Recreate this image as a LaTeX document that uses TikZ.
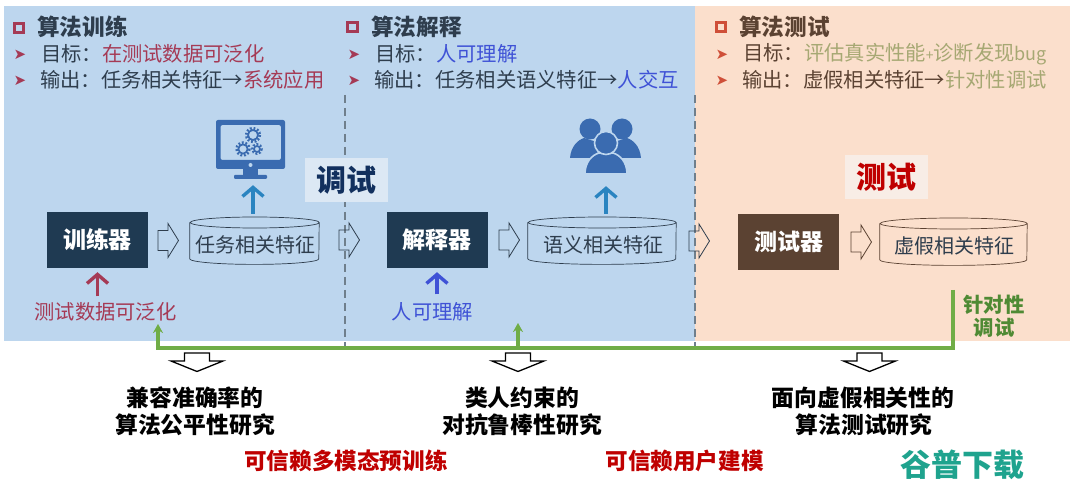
\documentclass[tikz,border=0pt]{standalone}
\usepackage{fontspec}
\setmainfont{Noto Sans CJK SC}
\newfontfamily\djv{DejaVu Sans}
\usetikzlibrary{arrows.meta}
\definecolor{panelblue}{HTML}{BDD6EE}
\definecolor{panelorange}{HTML}{FBDFCC}
\definecolor{ink}{HTML}{2E3D4D}
\definecolor{navybox}{HTML}{1F3A52}
\definecolor{brownbox}{HTML}{5B4232}
\definecolor{crimson}{HTML}{A53A55}
\definecolor{orangered}{HTML}{CF4F38}
\definecolor{vivblue}{HTML}{3F52D6}
\definecolor{olive}{HTML}{A6A873}
\definecolor{skyarrow}{HTML}{2A84C0}
\definecolor{iconblue}{HTML}{3A6BB0}
\definecolor{grassgreen}{HTML}{70AD47}
\definecolor{deepgreen}{HTML}{4F8A34}
\definecolor{dashgrey}{HTML}{6F7F8C}
\definecolor{teal1}{HTML}{1FA38E}
\definecolor{tagblue}{HTML}{DCE8F4}
\definecolor{tagnavy}{HTML}{12305E}
\definecolor{tagcream}{HTML}{F8EDE6}
\newcommand{\fsz}[1]{\fontsize{#1}{#1}\selectfont}
\tikzset{
  x=1pt,y=-1pt,
  titletext/.style={anchor=west,font=\fsz{22.6}\bfseries,text=ink,inner sep=0pt},
  linetext/.style={anchor=west,font=\fsz{20.3},text=ink,inner sep=0pt},
  bullet/.style={font=\djv\fsz{15},inner sep=0pt},
  squaremark/.style={draw=#1,line width=3pt,minimum width=9.5pt,minimum height=9.5pt,inner sep=0pt},
  blockbox/.style={fill=#1,text=white,font=\fsz{23}\bfseries,minimum width=101pt,minimum height=56pt,inner sep=0pt},
  blockline/.style={draw=#1,line width=.8pt,line join=miter},
  downline/.style={draw=black,line width=1.3pt,fill=white},
  upbarb/.style={draw=#1,line width=3.4pt,-{Straight Barb[length=9pt,width=21pt,line width=3.4pt]}},
  greenline/.style={draw=grassgreen,line width=3.6pt},
  greenhead/.style={greenline,-{Stealth[length=9pt,width=10pt]}},
  sepline/.style={draw=dashgrey,line width=1.8pt,dash pattern=on 8pt off 5pt},
  tagbox/.style={fill=#1,font=\fsz{30}\bfseries,minimum width=83pt,minimum height=44pt,inner sep=0pt},
  caption/.style={font=\fsz{22.8}\bfseries,text=black,inner sep=0pt},
  redcaption/.style={font=\fsz{22.6}\bfseries,text=red!75!black,inner sep=0pt},
  cyltext/.style={font=\fsz{20},text=ink,inner sep=0pt},
}
% name, centre x, top y, width, height, outline colour, text
\newcommand{\mycyl}[7]{%
  \node[minimum width=#4pt,minimum height=#5pt,inner sep=0pt,anchor=north] (#1) at (#2,#3) {};
  \draw[#6,line width=.7pt] ([yshift=-5.5pt]#1.north west) -- ([yshift=5.5pt]#1.south west)
     arc[start angle=180,end angle=360,x radius=#4pt/2,y radius=5.5pt]
     -- ([yshift=-5.5pt]#1.north east)
     arc[start angle=0,end angle=360,x radius=#4pt/2,y radius=5.5pt];
  \node[cyltext] (#1t) at ([xshift=1pt,yshift=-4pt]#1.center) {#7};
}
% name, left x, centre y, colour
\newcommand{\blockright}[4]{%
  \node[minimum width=21pt,minimum height=34pt,inner sep=0pt,anchor=west] (#1) at (#2,#3) {};
  \draw[blockline=#4,shift={(#2,#3)}] (0,-10) -- (10,-10) -- (10,-17) -- (20.5,0) -- (10,17) -- (10,10) -- (0,10) -- cycle;
}
% name, centre x, top y
\newcommand{\blockdown}[3]{%
  \node[minimum width=52pt,minimum height=18pt,inner sep=0pt,anchor=north] (#1) at (#2,#3) {};
  \draw[downline,shift={(#2,#3)}] (-12.5,0) -- (12.5,0) -- (12.5,8) -- (26,8) -- (0,18.5) -- (-26,8) -- (-12.5,8) -- cycle;
}
\begin{document}
\begin{tikzpicture}
\useasboundingbox (0,0) rectangle (1080,486);
% panels
\fill[panelblue] (4,6) rectangle (695,341);
\fill[panelorange] (695,6) rectangle (1070,341);
% separators
\coordinate (sepAa) at (345,95); \coordinate (sepAb) at (345,346);
\coordinate (sepBa) at (695,95); \coordinate (sepBb) at (695,346);
\draw[sepline] (sepAa) -- (sepAb);
\draw[sepline] (sepBa) -- (sepBb);
% column 1 heading
\node[squaremark=crimson] (sq1) at (19,28) {};
\node[titletext] (t1) at (37,27) {算法训练};
\node[bullet,text=crimson] (b1a) at (20,55) {➤};
\node[linetext] (l1a) at (41,54) {目标：\textcolor{crimson}{在测试数据可泛化}};
\node[bullet,text=crimson] (b1b) at (20,81) {➤};
\node[linetext] (l1b) at (40,80) {输出：任务相关特征→\textcolor{crimson}{系统应用}};
% column 2 heading
\node[squaremark=crimson] (sq2) at (352.5,27) {};
\node[titletext] (t2) at (371,27) {算法解释};
\node[bullet,text=crimson] (b2a) at (354,55) {➤};
\node[linetext] (l2a) at (375,54) {目标：\textcolor{vivblue}{人可理解}};
\node[bullet,text=crimson] (b2b) at (354,81) {➤};
\node[linetext] (l2b) at (374,80) {输出：任务相关语义特征→\textcolor{vivblue}{人交互}};
% column 3 heading
\node[squaremark=orangered] (sq3) at (721,27) {};
\node[titletext,text=brownbox] (t3) at (739,27) {算法测试};
\node[bullet,text=orangered] (b3a) at (722,55) {➤};
\node[linetext,text=brownbox] (l3a) at (743,54) {目标：\textcolor{olive}{评估真实性能{\fsz{14}+}诊断发现{\fsz{18}bug}}};
\node[bullet,text=orangered] (b3b) at (722,81) {➤};
\node[linetext,text=brownbox] (l3b) at (742,80) {输出：虚假相关特征→\textcolor{olive}{针对性调试}};
% tags
\node[tagbox=tagblue,text=tagnavy] (tagA) at (346.5,180.5) {调试};
\node[tagbox=tagcream,text=red!75!black] (tagB) at (886.5,177) {测试};
% blocks
\node[blockbox=navybox] (train) at (97.5,240) {训练器};
\node[blockbox=navybox] (expl) at (437,240) {解释器};
\node[blockbox=brownbox] (test) at (788.5,242) {测试器};
% cylinders
\mycyl{cylA}{254.5}{217}{129}{47}{ink}{任务相关特征}
\mycyl{cylB}{602}{217}{148}{47}{ink}{语义相关特征}
\mycyl{cylC}{953.5}{218}{147}{47}{brownbox}{虚假相关特征}
% hollow block arrows
\blockright{haA}{158}{240.5}{ink}
\blockright{haB}{339}{240}{ink}
\blockright{haC}{499}{240}{ink}
\blockright{haD}{689}{241}{ink}
\blockright{haE}{851}{242}{brownbox}
% monitor icon
\node[minimum width=69pt,minimum height=59pt,inner sep=0pt] (mon) at (250.5,149.5) {};
\fill[iconblue,rounded corners=2pt,even odd rule] (216,120) rectangle (285,169)
   (220.5,125) rectangle (281,160);
\fill[panelblue] (250.5,165) circle[radius=2];
\fill[iconblue] (243,169) rectangle (258,175);
\fill[iconblue,rounded corners=1pt] (234,175) rectangle (267,179);
\foreach \gx/\gy/\gr/\gw in {253/135/5/2.6,243/149/4.6/2.6,257/149/3/2.2}{
  \draw[iconblue,line width=1.7pt] (\gx,\gy) circle[radius=\gr];
  \draw[iconblue,line width=\gw pt,dash pattern=on 1.8pt off 1.8pt] (\gx,\gy) circle[radius=\gr+1.8];
}
% users icon
\node[minimum width=72pt,minimum height=58pt,inner sep=0pt] (users) at (606,146) {};
\fill[iconblue] (570,158) .. controls (571,146) and (578,140) .. (584,138) -- (600,143) -- (596,158) -- cycle;
\fill[iconblue] (641,158) .. controls (640,146) and (633,140) .. (627,138) -- (611,143) -- (615,158) -- cycle;
\fill[iconblue] (590,129) circle[radius=10.5];
\fill[iconblue] (622,129) circle[radius=10.5];
\fill[iconblue,draw=panelblue,line width=1.6pt] (585,174) .. controls (585,162) and (592,155) .. (599,153) -- (613,153) .. controls (620,155) and (627,162) .. (627,174) -- cycle;
\fill[iconblue,draw=panelblue,line width=1.6pt] (606,143) circle[radius=11.5];
% labels under blocks
\node[font=\fsz{20.3},text=crimson,inner sep=0pt] (labA) at (105.5,312) {测试数据可泛化};
\node[font=\fsz{20.3},text=vivblue,inner sep=0pt] (labB) at (432.5,312) {人可理解};
\node[font=\fsz{20.4}\bfseries,text=deepgreen,align=center,inner sep=0pt] (labC) at (994,316.5) {针对性\\[3pt]调试};
% up arrows
\draw[upbarb=skyarrow,shorten <=3pt,shorten >=6pt] (cylA.north -| mon.south) ++(2.5,0) coordinate (upA) -- (upA |- mon.south);
\draw[upbarb=skyarrow,shorten <=3pt,shorten >=11pt] (cylB.north -| users.south) -- (users.south);
\draw[upbarb=crimson,shorten >=4pt] (train.south |- labA.north) ++(0,-6) coordinate (upC) -- (train.south);
\draw[upbarb=vivblue,shorten >=4pt] (expl.south |- labB.north) ++(0,-8) coordinate (upD) -- (expl.south);
% green feedback line
\coordinate (gStart) at (953,290);
\coordinate (gCorner) at (953,348);
\coordinate (gLeft) at (158,348);
\coordinate (gLeftEnd) at (158,324);
\coordinate (gMid) at (518,348);
\coordinate (gMidEnd) at (518,323);
\draw[greenhead] (gStart) -- (gCorner) -- (gLeft) -- (gLeftEnd);
\draw[greenhead] (gMid) -- (gMidEnd);
% down hollow arrows
\blockdown{dA}{197}{353}
\blockdown{dB}{518}{353}
\blockdown{dC}{869.5}{353}
% captions
\node[caption] (c1a) at (195,398) {兼容准确率的};
\node[caption] (c1b) at (195,425) {算法公平性研究};
\node[caption] (c2a) at (522,398) {类人约束的};
\node[caption] (c2b) at (522,425) {对抗鲁棒性研究};
\node[caption] (c3a) at (863,398) {面向虚假相关性的};
\node[caption] (c3b) at (864,425) {算法测试研究};
\node[redcaption] (r1) at (346,461) {可信赖多模态预训练};
\node[redcaption] (r2) at (684.5,461) {可信赖用户建模};
\node[font=\fsz{31}\bfseries,text=teal1,inner sep=0pt] (wm) at (962.5,465) {谷普下载};
\end{tikzpicture}
\end{document}
